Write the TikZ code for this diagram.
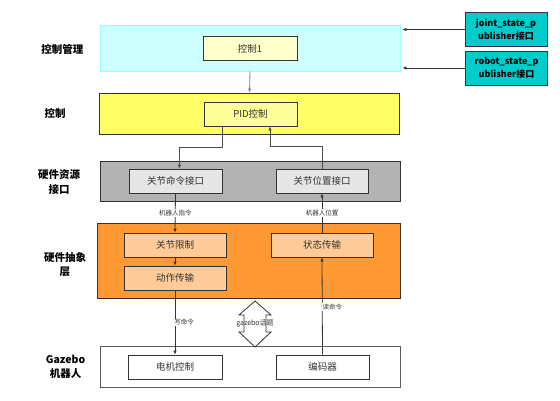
\documentclass[tikz,border=0pt]{standalone}
\usepackage{fontspec}
\setmainfont{Noto Sans CJK SC}
\usetikzlibrary{arrows.meta,positioning,calc}
\definecolor{mgrfill}{HTML}{CCFFFF}
\definecolor{mgrline}{HTML}{99FFFF}
\definecolor{ctlfill}{HTML}{FFFF66}
\definecolor{pidfill}{HTML}{FFFF99}
\definecolor{cfill}{HTML}{FFFFCC}
\definecolor{hwfill}{HTML}{B3B3B3}
\definecolor{hwin}{HTML}{E6E6E6}
\definecolor{absfill}{HTML}{FF9933}
\definecolor{absin}{HTML}{FFCC99}
\definecolor{pubfill}{HTML}{00CCCC}
\definecolor{edge}{HTML}{333333}
\begin{document}
\begin{tikzpicture}[x=1pt,y=-1pt,
	>={Latex[length=4pt,width=3.5pt]},
	layer/.style={draw=edge,line width=.9pt,minimum width=300pt,minimum height=#1,inner sep=0pt},
	unit/.style={draw=edge,line width=.8pt,minimum width=#1,minimum height=24pt,inner sep=0pt,font=\fontsize{9.5}{11}\selectfont,text=black!80},
	pub/.style={draw=edge,line width=.8pt,fill=pubfill,minimum width=82pt,minimum height=34pt,inner sep=0pt,align=center,font=\fontsize{9}{13}\selectfont\bfseries},
	tag/.style={align=center,font=\fontsize{10.5}{14.5}\selectfont\bfseries},
	note/.style={font=\fontsize{6.5}{7}\selectfont,text=black!80,inner sep=.5pt},
	link/.style={->,draw=edge,line width=.8pt}]

	\useasboundingbox (0,0) rectangle (560,400);

	% layers
	\node[layer=46pt,fill=mgrfill,draw=mgrline] (L1) at (250,48) {};
	\node[layer=41pt,fill=ctlfill] (L2) at (249.5,113.5) {};
	\node[layer=40pt,fill=hwfill] (L3) at (250,181) {};
	\node[layer=75pt,fill=absfill,minimum width=303pt] (L4) at (248.5,260.5) {};
	\node[layer=41pt,fill=white,draw=edge!80] (L5) at (250,366.5) {};

	\node[tag] (T1) at (62.5,49) {控制管理};
	\node[tag] (T2) at (55,113) {控制};
	\node[tag] (T3) at (59,182) {硬件资源\\接口};
	\node[tag] (T4) at (65,264.5) {硬件抽象\\层};
	\node[tag] (T5) at (65.5,367) {Gazebo\\机器人};

	% units
	\node[unit=94pt,fill=cfill] (C1) at (250,48.5) {控制1};
	\node[unit=93pt,fill=pidfill] (PID) at (250.5,114) {PID控制};
	\node[unit=93pt,fill=hwin] (Cmd) at (175.5,181) {关节命令接口};
	\node[unit=92pt,fill=hwin] (Pos) at (322,181) {关节位置接口};
	\node[unit=102pt,fill=absin] (Lim) at (175,245) {关节限制};
	\node[unit=102pt,fill=absin] (Act) at (175,278) {动作传输};
	\node[unit=102pt,fill=absin] (Sta) at (322,245) {状态传输};
	\node[unit=94pt,fill=white] (Mot) at (175,367) {电机控制};
	\node[unit=93pt,fill=white] (Enc) at (322.5,367) {编码器};

	\node[pub] (J) at (506,29.5) {joint\_state\_p\\ublisher接口};
	\node[pub] (R) at (506.5,68) {robot\_state\_p\\ublisher接口};

	% links
	\draw[link,draw=black!50] (L1.south) -- (L2.north);
	\draw[link,draw=black!70] ([xshift=-28.5pt]PID.south) -- ++(0,21) -| ([xshift=4pt]Cmd.north);
	\draw[link,draw=black!70] (Pos.north) -- ++(0,-22) -| ([xshift=19.5pt]PID.south);

	\draw[link] (Cmd.south) -- node[note,fill=white] {机器人指令} (Lim.north);
	\draw[link] (Sta.north) -- node[note,fill=white] {机器人位置} (Pos.south);
	\draw[link] (Lim.south) -- (Act.north);
	\draw[link] (Act.south) -- node[note,fill=white,anchor=west,xshift=-1.5pt] {写命令} (Mot.north);
	\draw[link] (Enc.north) -- node[note,fill=white,anchor=west,xshift=-.5pt,pos=.49] {读命令} (Sta.south);

	\draw[link] (J.west) -- ([xshift=2pt]J.west -| L1.east);
	\draw[link] (R.west) -- ([xshift=2pt]R.west -| L1.east);

	% gazebo topic
	\draw[draw=edge,line width=.8pt,fill=white] (255,301) -- (271,315) -- (266,315) -- (266,332) -- (271,332)
		-- (255,347) -- (239,332) -- (244,332) -- (244,315) -- (239,315) -- cycle;
	\node[note,font=\fontsize{7}{8}\selectfont] (Gz) at (255,323.5) {gazebo话题};

\end{tikzpicture}
\end{document}
